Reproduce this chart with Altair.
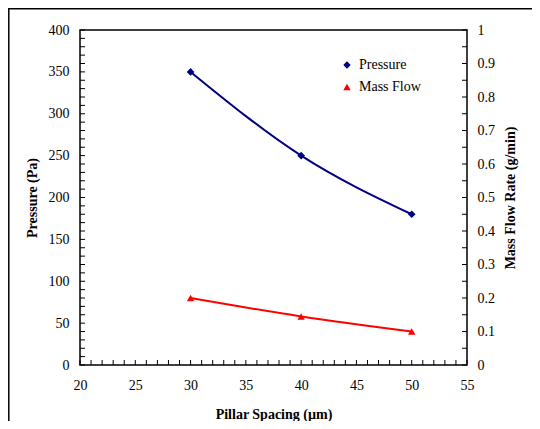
import altair as alt
import pandas as pd

spacing = [30, 40, 50]
pressure = [350, 250, 180]
mass_flow = [0.2, 0.145, 0.1]
series = ["Pressure", "Mass Flow"]
colors = ["#000080", "#FF0000"]
shapes = ["diamond", "triangle-up"]
x_minor = list(range(20, 56))
p_minor = list(range(0, 401, 10))
m_minor = [round(i * 0.05, 2) for i in range(21)]

FONT = "Liberation Serif"
W, H = 387, 335

dp = pd.DataFrame({"x": spacing, "v": pressure, "s": "Pressure"})
dm = pd.DataFrame({"x": spacing, "v": mass_flow, "s": "Mass Flow"})

xscale = alt.Scale(domain=[20, 55], nice=False, zero=False)
pscale = alt.Scale(domain=[0, 400], nice=False)
mscale = alt.Scale(domain=[0, 1], nice=False)

x_axis = alt.Axis(values=list(range(20, 56, 5)), title="Pillar Spacing (µm)",
                  ticks=False, tickSize=0, grid=False, domain=False, labelFlush=False,
                  labelPadding=13, labelFontSize=14, labelFont=FONT, labelColor="black",
                  titleFont=FONT, titleFontSize=14, titleFontWeight="bold", titleColor="black",
                  titleY=49, titleBaseline="middle")
p_axis = alt.Axis(orient="left", values=list(range(0, 401, 50)), title="Pressure (Pa)",
                  ticks=False, tickSize=0, grid=False, domain=False, labelFlush=False,
                  labelPadding=11, labelFontSize=14, labelFont=FONT, labelColor="black",
                  titleFont=FONT, titleFontSize=14, titleFontWeight="bold", titleColor="black",
                  titleX=-48, titleY=H / 2, titleAngle=270, titleBaseline="middle", titleAlign="center")
m_axis = alt.Axis(orient="right", values=[round(i * 0.1, 1) for i in range(11)],
                  title="Mass Flow Rate (g/min)",
                  ticks=False, tickSize=0, grid=False, domain=False, labelFlush=False,
                  labelPadding=10, labelFontSize=14, labelFont=FONT, labelColor="black",
                  labelExpr="datum.value == 0 ? '0' : datum.value == 1 ? '1' : format(datum.value, '.1f')",
                  titleFont=FONT, titleFontSize=14, titleFontWeight="bold", titleColor="black",
                  titleX=43, titleY=H / 2, titleAngle=270, titleBaseline="middle", titleAlign="center")

color = alt.Color("s:N", scale=alt.Scale(domain=series, range=colors),
                  legend=alt.Legend(title=None, orient="none", legendX=260, legendY=28,
                                    labelFont=FONT, labelFontSize=14, labelColor="black",
                                    symbolSize=55, rowPadding=8, labelOffset=5, padding=0))
shape = alt.Shape("s:N", scale=alt.Scale(domain=series, range=shapes), legend=None)

X = alt.X("x:Q", scale=xscale, axis=x_axis)

p_line = alt.Chart(dp).mark_line(color=colors[0], strokeWidth=2, interpolate="monotone").encode(
    x=X, y=alt.Y("v:Q", scale=pscale, axis=p_axis))
p_pts = alt.Chart(dp).mark_point(filled=True, size=60, opacity=1).encode(
    x=X, y=alt.Y("v:Q", scale=pscale, axis=p_axis), color=color, shape=shape)
p_ticks = alt.Chart(pd.DataFrame({"t": p_minor})).mark_rule(color="black", strokeWidth=1).encode(
    y=alt.Y("t:Q", scale=pscale, axis=p_axis), x=alt.value(0), x2=alt.value(5))
x_ticks = alt.Chart(pd.DataFrame({"t": x_minor})).mark_rule(color="black", strokeWidth=1).encode(
    x=alt.X("t:Q", scale=xscale, axis=x_axis), y=alt.value(H), y2=alt.value(H - 5))

m_line = alt.Chart(dm).mark_line(color=colors[1], strokeWidth=2, interpolate="monotone").encode(
    x=X, y=alt.Y("v:Q", scale=mscale, axis=m_axis))
m_pts = alt.Chart(dm).mark_point(filled=True, size=55, opacity=1).encode(
    x=X, y=alt.Y("v:Q", scale=mscale, axis=m_axis), color=color, shape=shape)
m_ticks = alt.Chart(pd.DataFrame({"t": m_minor})).mark_rule(color="black", strokeWidth=1).encode(
    y=alt.Y("t:Q", scale=mscale, axis=m_axis), x=alt.value(W - 5), x2=alt.value(W))

frame = alt.Chart(pd.DataFrame({"a": [0]})).mark_rect(fill=None, stroke="black", strokeWidth=1.5).encode(
    x=alt.value(-71.2), x2=alt.value(W + 200), y=alt.value(-21.2), y2=alt.value(H + 200))

left = alt.layer(p_line, p_pts, p_ticks, x_ticks)
right = alt.layer(m_line, m_pts, m_ticks)

chart = alt.layer(left, right, frame).resolve_scale(y="independent").properties(
    width=W, height=H,
    autosize=alt.AutoSizeParams(type="none"),
    padding={"left": 72, "top": 22, "right": 65, "bottom": 56},
).configure_view(stroke="black", strokeWidth=1.5)

chart.save("out.html", embed_options={"renderer": "svg", "actions": False})
